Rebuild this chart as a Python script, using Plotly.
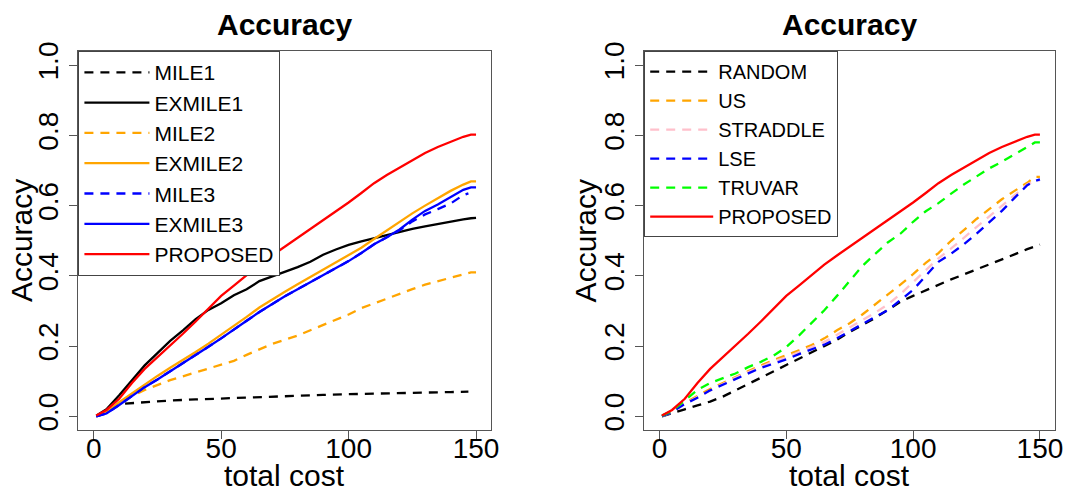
import plotly.graph_objects as go

# ---------------- data ----------------
cost = [1, 5, 10, 15, 20, 25, 30, 35, 40, 45, 50, 55, 60, 65, 70, 75, 80, 85, 90, 95,
        100, 105, 110, 115, 120, 125, 130, 135, 140, 145, 148, 150]

proposed = [0.002, 0.018, 0.050, 0.095, 0.135, 0.168, 0.200, 0.235, 0.270, 0.308, 0.343, 0.372,
            0.402, 0.432, 0.458, 0.483, 0.508, 0.535, 0.558, 0.585, 0.609, 0.636, 0.664, 0.687,
            0.708, 0.729, 0.750, 0.767, 0.782, 0.796, 0.802, 0.802]

# left panel
cost_mile1 = [1, 5, 10, 15, 20, 30, 40, 50, 60, 70, 80, 90, 100, 110, 120, 130, 140, 147]
mile1 = [0.0, 0.012, 0.035, 0.038, 0.041, 0.045, 0.048, 0.051, 0.054, 0.057, 0.059, 0.061,
         0.063, 0.065, 0.066, 0.068, 0.069, 0.070]
exmile1 = [0.002, 0.020, 0.060, 0.103, 0.145, 0.180, 0.215, 0.245, 0.277, 0.303, 0.322, 0.345,
           0.362, 0.385, 0.398, 0.410, 0.425, 0.440, 0.460, 0.475, 0.488, 0.498, 0.507, 0.516,
           0.526, 0.534, 0.541, 0.548, 0.555, 0.561, 0.564, 0.565]
mile2 = [0.0, 0.010, 0.035, 0.058, 0.075, 0.090, 0.103, 0.114, 0.125, 0.136, 0.146, 0.158,
         0.175, 0.190, 0.206, 0.218, 0.230, 0.245, 0.260, 0.275, 0.290, 0.308, 0.322, 0.335,
         0.348, 0.362, 0.375, 0.385, 0.395, 0.405, 0.410, 0.410]
exmile2 = [0.002, 0.012, 0.040, 0.065, 0.092, 0.115, 0.138, 0.160, 0.183, 0.207, 0.232, 0.257,
           0.283, 0.310, 0.333, 0.355, 0.376, 0.397, 0.418, 0.438, 0.458, 0.480, 0.505, 0.530,
           0.553, 0.578, 0.600, 0.622, 0.642, 0.660, 0.669, 0.669]
cost_mile3 = [1, 5, 10, 15, 20, 25, 30, 35, 40, 45, 50, 55, 60, 65, 70, 75, 80, 85, 90, 95,
              100, 105, 110, 115, 120, 125, 130, 135, 140, 145, 147]
mile3 = [0.0, 0.008, 0.032, 0.058, 0.083, 0.105, 0.128, 0.150, 0.173, 0.198, 0.222, 0.248,
         0.272, 0.297, 0.320, 0.342, 0.362, 0.382, 0.402, 0.422, 0.442, 0.465, 0.490, 0.510,
         0.530, 0.555, 0.575, 0.590, 0.606, 0.630, 0.635]
exmile3 = [0.0, 0.008, 0.032, 0.058, 0.083, 0.105, 0.128, 0.150, 0.173, 0.198, 0.222, 0.248,
           0.272, 0.297, 0.320, 0.342, 0.362, 0.382, 0.402, 0.422, 0.442, 0.465, 0.490, 0.510,
           0.532, 0.560, 0.585, 0.603, 0.625, 0.645, 0.652, 0.652]

# right panel
random_ = [0.0, 0.008, 0.020, 0.031, 0.042, 0.056, 0.074, 0.092, 0.110, 0.130, 0.148, 0.165,
           0.182, 0.200, 0.218, 0.240, 0.260, 0.280, 0.303, 0.326, 0.343, 0.359, 0.375, 0.390,
           0.404, 0.418, 0.431, 0.446, 0.461, 0.476, 0.484, 0.489]
us = [0.0, 0.013, 0.038, 0.058, 0.078, 0.095, 0.112, 0.128, 0.145, 0.160, 0.173, 0.188,
      0.203, 0.222, 0.245, 0.265, 0.290, 0.318, 0.345, 0.375, 0.405, 0.437, 0.465, 0.500,
      0.530, 0.562, 0.590, 0.618, 0.642, 0.665, 0.682, 0.682]
straddle = [0.0, 0.012, 0.036, 0.055, 0.075, 0.092, 0.110, 0.125, 0.141, 0.156, 0.168, 0.182,
            0.196, 0.212, 0.232, 0.252, 0.274, 0.295, 0.318, 0.348, 0.383, 0.418, 0.450, 0.478,
            0.508, 0.538, 0.568, 0.598, 0.630, 0.660, 0.672, 0.672]
lse = [0.0, 0.012, 0.035, 0.053, 0.074, 0.090, 0.106, 0.122, 0.138, 0.150, 0.162, 0.177,
       0.190, 0.204, 0.222, 0.243, 0.264, 0.283, 0.302, 0.330, 0.360, 0.400, 0.440, 0.463,
       0.490, 0.520, 0.553, 0.585, 0.622, 0.658, 0.670, 0.675]
truvar = [0.002, 0.015, 0.045, 0.075, 0.095, 0.108, 0.122, 0.140, 0.155, 0.173, 0.197, 0.230,
          0.265, 0.302, 0.343, 0.385, 0.428, 0.462, 0.495, 0.520, 0.554, 0.584, 0.607, 0.634,
          0.660, 0.683, 0.706, 0.725, 0.745, 0.767, 0.780, 0.780]

x_ticks = [0, 50, 100, 150]
y_ticks = [0.0, 0.2, 0.4, 0.6, 0.8, 1.0]

# ---------------- styling ----------------
FONT = "Liberation Sans, Arial, Helvetica, sans-serif"
W, H = 1082, 497
LW = 2.3
DASH = "9px,7px"
ORANGE = "#FFA500"
PINK = "#FFC0CB"
GREEN = "#00FF00"

fig = go.Figure()

def add(x, y, name, color, dash, xa, ya, legend):
    fig.add_trace(go.Scatter(
        x=x, y=y, name=name, mode="lines",
        line=dict(color=color, width=LW, dash=dash),
        xaxis=xa, yaxis=ya, legend=legend))

# left
add(cost_mile1, mile1, "MILE1", "black", DASH, "x", "y", "legend")
add(cost, exmile1, "EXMILE1", "black", "solid", "x", "y", "legend")
add(cost, mile2, "MILE2", ORANGE, DASH, "x", "y", "legend")
add(cost, exmile2, "EXMILE2", ORANGE, "solid", "x", "y", "legend")
add(cost_mile3, mile3, "MILE3", "blue", DASH, "x", "y", "legend")
add(cost, exmile3, "EXMILE3", "blue", "solid", "x", "y", "legend")
add(cost, proposed, "PROPOSED", "red", "solid", "x", "y", "legend")
# right
add(cost, random_, "RANDOM", "black", DASH, "x2", "y2", "legend2")
add(cost, us, "US", ORANGE, DASH, "x2", "y2", "legend2")
add(cost, straddle, "STRADDLE", PINK, DASH, "x2", "y2", "legend2")
add(cost, lse, "LSE", "blue", DASH, "x2", "y2", "legend2")
add(cost, truvar, "TRUVAR", GREEN, DASH, "x2", "y2", "legend2")
add(cost, proposed, "PROPOSED", "red", "solid", "x2", "y2", "legend2")

LEFT_DOM = [79 / W, 495 / W]
RIGHT_DOM = [649 / W, 1063 / W]
Y_DOM = [1 - 430 / H, 1 - 43 / H]

axis_common = dict(showline=True, mirror=True, linecolor="#555", linewidth=1,
                   ticks="outside", ticklen=8, tickcolor="#555", tickwidth=1,
                   showgrid=False, zeroline=False,
                   tickfont=dict(family=FONT, size=28, color="black"))

xa = dict(axis_common, range=[-6, 156], tickvals=x_ticks, ticklabelstandoff=-15)
ya = dict(axis_common, range=[-0.04, 1.04], tickvals=y_ticks, tickformat=".1f", tickangle=-90)

legend_common = dict(xref="paper", yref="paper", xanchor="left", yanchor="top",
                     bgcolor="white", bordercolor="#444", borderwidth=1,
                     tracegroupgap=0)

fig.update_layout(
    width=W, height=H, autosize=False,
    margin=dict(l=0, r=0, t=0, b=0),
    paper_bgcolor="white", plot_bgcolor="white",
    font=dict(family=FONT, color="black"),
    xaxis=dict(xa, domain=LEFT_DOM, anchor="y"),
    yaxis=dict(ya, domain=Y_DOM, anchor="x"),
    xaxis2=dict(xa, domain=RIGHT_DOM, anchor="y2"),
    yaxis2=dict(ya, domain=Y_DOM, anchor="x2"),
    legend=dict(legend_common, x=LEFT_DOM[0], y=Y_DOM[1], itemwidth=65,
                font=dict(family=FONT, size=21)),
    legend2=dict(legend_common, x=RIGHT_DOM[0], y=Y_DOM[1], itemwidth=63,
                 font=dict(family=FONT, size=20)),
    showlegend=True,
)

annotations = []
for dom, ytitle_x in ((LEFT_DOM, 21.5 / W), (RIGHT_DOM, 590 / W)):
    cx = (dom[0] + dom[1]) / 2
    annotations.append(dict(text="<b>Accuracy</b>", x=cx, y=1 - 16 / H, xref="paper", yref="paper",
                            showarrow=False, xanchor="center", yanchor="middle",
                            font=dict(family=FONT, size=30, color="black")))
    annotations.append(dict(text="total cost", x=cx, y=1 - 476 / H, xref="paper", yref="paper",
                            showarrow=False, xanchor="center", yanchor="middle",
                            font=dict(family=FONT, size=30, color="black")))
    annotations.append(dict(text="Accuracy", x=ytitle_x, y=(Y_DOM[0] + Y_DOM[1]) / 2,
                            xref="paper", yref="paper", textangle=-90,
                            showarrow=False, xanchor="center", yanchor="middle",
                            font=dict(family=FONT, size=30, color="black")))
fig.update_layout(annotations=annotations)

fig.write_html("out.html")
